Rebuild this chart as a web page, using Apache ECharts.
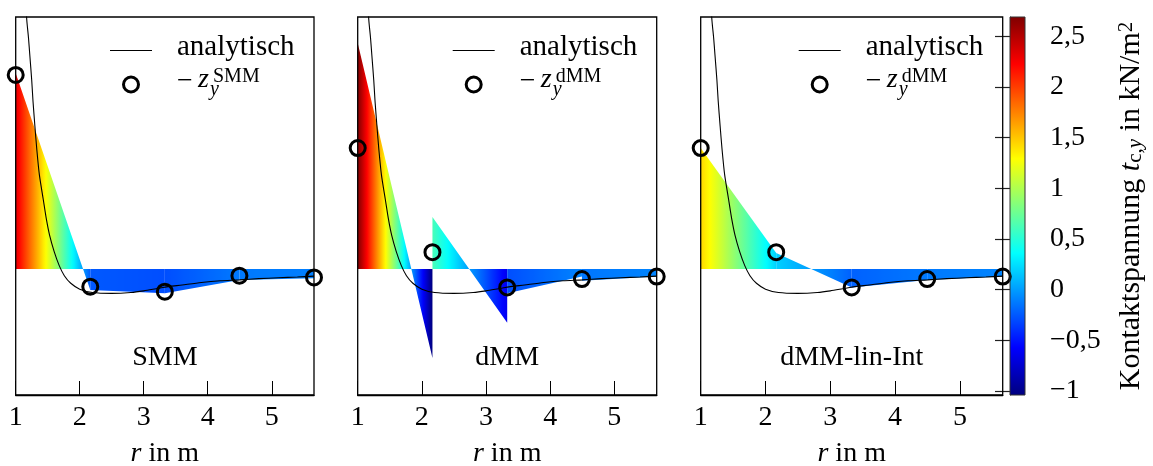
<!DOCTYPE html>
<html><head><meta charset="utf-8">
<script src="https://cdn.jsdelivr.net/npm/echarts@6/dist/echarts.min.js"></script>
<style>html,body{margin:0;padding:0;background:#fff}#c{width:1153px;height:466px}</style>
</head><body><div id="c"></div>
<script>
// ---------- data ----------
const rNodes = [1, 2.165, 3.33, 4.495, 5.66];
const circSMM = [2.31, -0.21, -0.27, -0.08, -0.10];
const circDMM = [1.44, 0.20, -0.22, -0.12, -0.09];
// element-wise fill values (start / end of each element)
const fillSMMStart = [2.33, -0.25, -0.29, -0.13];
const fillSMMEnd   = [-0.25, -0.29, -0.13, -0.11];
const fillDMMStart = [2.69, 0.62, -0.29, -0.14];
const fillDMMEnd   = [-1.06, -0.64, -0.09, -0.09];
const fillLinStart = [1.44, 0.19, -0.22, -0.13];
const fillLinEnd   = [0.19, -0.22, -0.13, -0.09];
// analytic curve
const rAna = [1.12, 1.17, 1.2, 1.22, 1.25, 1.27, 1.3, 1.33, 1.37, 1.43, 1.48, 1.53, 1.6, 1.68, 1.76, 1.86, 2.0, 2.2, 2.5, 2.8, 3.0, 3.3, 3.6, 3.9, 4.2, 4.5, 4.8, 5.1, 5.4, 5.66];
const vAna = [4.2, 3.0, 2.75, 2.55, 2.25, 2.0, 1.7, 1.42, 1.12, 0.83, 0.59, 0.40, 0.21, 0.04, -0.08, -0.17, -0.24, -0.28, -0.29, -0.28, -0.26, -0.22, -0.19, -0.16, -0.14, -0.13, -0.115, -0.105, -0.095, -0.085];
const xTicks = [1, 2, 3, 4, 5];
const cbTicks = [-1, -0.5, 0, 0.5, 1, 1.5, 2, 2.5];
const cbRange = [-1.04, 2.69];
const panelNames = ['SMM', 'dMM', 'dMM-lin-Int'];
const supLabels = ['SMM', 'dMM', 'dMM'];

// ---------- layout ----------
const FONT = '"Liberation Serif", "Times New Roman", serif';
const gridLeft = [15.7, 357.7, 700.7];
const gridWidth = [298.3, 299, 302];
const gridTop = 17, gridHeight = 378;

const fills = [[fillSMMStart, fillSMMEnd], [fillDMMStart, fillDMMEnd], [fillLinStart, fillLinEnd]];
const circs = [circSMM, circDMM, circDMM];

const jetStops = [[0,[0,0,128]],[0.125,[0,0,255]],[0.375,[0,255,255]],[0.625,[255,255,0]],[0.875,[255,0,0]],[1,[128,0,0]]];
function jet(v){
  let t = (v - cbRange[0]) / (cbRange[1] - cbRange[0]);
  t = Math.max(0, Math.min(1, t));
  for (let i = 1; i < jetStops.length; i++) {
    if (t <= jetStops[i][0]) {
      const a = jetStops[i-1], b = jetStops[i];
      const f = (t - a[0]) / (b[0] - a[0]);
      const c = a[1].map((x, k) => Math.round(x + (b[1][k] - x) * f));
      return 'rgb(' + c.join(',') + ')';
    }
  }
  return 'rgb(128,0,0)';
}

function renderFill(params, api){
  const r0 = api.value(0), r1 = api.value(1), v0 = api.value(2), v1 = api.value(3);
  const a = api.coord([r0, 0]), b = api.coord([r0, v0]), c = api.coord([r1, v1]), d = api.coord([r1, 0]);
  const N = 32, stops = [];
  for (let i = 0; i <= N; i++) stops.push({offset: i / N, color: jet(v0 + (v1 - v0) * i / N)});
  return {type: 'polygon', shape: {points: [a, b, c, d]},
    style: {fill: new echarts.graphic.LinearGradient(a[0], 0, d[0], 0, stops, true), stroke: null}};
}
function renderBar(params, api){
  const p0 = api.coord([api.value(0), api.value(1)]), p1 = api.coord([api.value(2), api.value(3)]);
  const N = 40, stops = [];
  for (let i = 0; i <= N; i++) stops.push({offset: i / N, color: jet(cbRange[0] + (cbRange[1] - cbRange[0]) * i / N)});
  return {type: 'rect', shape: {x: p0[0], y: p1[1], width: p1[0] - p0[0], height: p0[1] - p1[1]},
    style: {fill: new echarts.graphic.LinearGradient(0, 1, 0, 0, stops)}};
}

const grid = [], xAxis = [], yAxis = [], series = [], graphic = [];
for (let p = 0; p < 3; p++) {
  grid.push({left: gridLeft[p], top: gridTop, width: gridWidth[p], height: gridHeight, show: true,
    outerBoundsMode: 'none', containLabel: false,
    borderColor: '#000', borderWidth: 1.3, backgroundColor: 'transparent', z: 10});
  xAxis.push({gridIndex: p, type: 'value', min: 1, max: 5.66, interval: 1,
    axisLine: {show: true, onZero: false, lineStyle: {color: '#000', width: 1.3}},
    axisTick: {show: true, inside: true, length: 14, lineStyle: {color: '#000', width: 1}},
    axisLabel: {show: true, margin: 9, showMaxLabel: false, fontFamily: FONT, fontSize: 28, color: '#000',
      formatter: v => (xTicks.indexOf(v) >= 0 ? String(v) : '')},
    splitLine: {show: false},
    name: '{i|r} in m', nameLocation: 'middle', nameGap: 45,
    nameTextStyle: {fontFamily: FONT, fontSize: 28, color: '#000',
      rich: {i: {fontFamily: FONT, fontSize: 28, fontStyle: 'italic', color: '#000'}}}});
  yAxis.push({gridIndex: p, type: 'value', min: -1.5, max: 3, show: false});
  const fd = fills[p][0].map((s, i) => [rNodes[i], rNodes[i+1], s, fills[p][1][i]]);
  series.push({type: 'custom', name: 'Kontaktspannung ' + panelNames[p], xAxisIndex: p, yAxisIndex: p,
    renderItem: renderFill, data: fd, z: 1, silent: true, encode: {x: [0, 1], y: [2, 3]}});
  series.push({type: 'line', name: 'analytisch', xAxisIndex: p, yAxisIndex: p,
    data: rAna.map((r, i) => [r, vAna[i]]), showSymbol: false, symbol: 'none', smooth: 0.25,
    lineStyle: {color: '#000', width: 1.1}, clip: true, z: 3, silent: true});
  series.push({type: 'scatter', name: '−z_y^' + supLabels[p], xAxisIndex: p, yAxisIndex: p,
    data: rNodes.map((r, i) => [r, circs[p][i]]), symbol: 'circle', symbolSize: 15,
    itemStyle: {color: 'rgba(0,0,0,0)', borderColor: '#000', borderWidth: 3, opacity: 1}, z: 5, silent: true});
  // legend + panel label
  const R = gridLeft[p] + gridWidth[p];
  const cx = gridLeft[p] + gridWidth[p] / 2;
  graphic.push({type: 'group', x: R, y: 0, z: 100, children: [
    {type: 'line', shape: {x1: -204, y1: 50.5, x2: -162, y2: 50.5}, style: {stroke: '#000', lineWidth: 1.1}},
    {type: 'circle', shape: {cx: -183, cy: 84.5, r: 7.5}, style: {stroke: '#000', fill: null, lineWidth: 3}},
    {type: 'text', x: -137, y: 47.5, style: {text: 'analytisch', fontFamily: FONT, fontSize: 29, fill: '#000', align: 'left', verticalAlign: 'middle'}},
    {type: 'text', x: -137, y: 82, style: {text: '−', fontFamily: FONT, fontSize: 28, fill: '#000', align: 'left', verticalAlign: 'middle'}},
    {type: 'text', x: -116, y: 79.5, style: {text: 'z', fontFamily: FONT, fontSize: 28, fontStyle: 'italic', fill: '#000', align: 'left', verticalAlign: 'middle'}},
    {type: 'text', x: -101, y: 76.5, style: {text: supLabels[p], fontFamily: FONT, fontSize: 20, fill: '#000', align: 'left', verticalAlign: 'middle'}},
    {type: 'text', x: -104, y: 90, style: {text: 'y', fontFamily: FONT, fontSize: 20, fontStyle: 'italic', fill: '#000', align: 'left', verticalAlign: 'middle'}}
  ]});
  graphic.push({type: 'text', x: cx, y: 357.3, z: 100, style: {text: panelNames[p], fontFamily: FONT, fontSize: 28, fill: '#000', align: 'center', verticalAlign: 'middle'}});
}
// colorbar
grid.push({left: 1010, top: gridTop, width: 15, height: gridHeight, show: true, outerBoundsMode: 'none', containLabel: false,
  borderColor: '#333', borderWidth: 1, backgroundColor: 'transparent', z: 10});
xAxis.push({gridIndex: 3, type: 'value', min: 0, max: 1, show: false});
const fmt = v => String(v).replace('.', ',').replace('-', '−');
yAxis.push({gridIndex: 3, type: 'value', min: cbRange[0], max: cbRange[1], position: 'right',
  axisLine: {show: true, lineStyle: {color: '#333', width: 1}},
  axisTick: {show: true, inside: true, length: 15, customValues: cbTicks, lineStyle: {color: '#222', width: 1.2}},
  axisLabel: {show: true, margin: 25, customValues: cbTicks, formatter: fmt, fontFamily: FONT, fontSize: 28, color: '#000'},
  splitLine: {show: false},
  name: '{n|Kontaktspannung }{i|t}{s|c,}{si|y}{n| in kN/m}{p|2}',
  nameLocation: 'middle', nameRotate: 90, nameGap: 91,
  nameTextStyle: {fontFamily: FONT, fontSize: 30, color: '#000', rich: {
    n: {fontFamily: FONT, fontSize: 30, lineHeight: 30, color: '#000', verticalAlign: 'middle'},
    i: {fontFamily: FONT, fontSize: 30, lineHeight: 30, fontStyle: 'italic', color: '#000', verticalAlign: 'middle'},
    s: {fontFamily: FONT, fontSize: 21, lineHeight: 21, color: '#000', padding: [16, 0, 0, 0], verticalAlign: 'bottom'},
    si: {fontFamily: FONT, fontSize: 21, lineHeight: 21, fontStyle: 'italic', color: '#000', padding: [16, 0, 0, 0], verticalAlign: 'bottom'},
    p: {fontFamily: FONT, fontSize: 21, lineHeight: 21, color: '#000', padding: [0, 0, 16, 0], verticalAlign: 'top'}
  }}});
series.push({type: 'custom', name: 'Farbskala', xAxisIndex: 3, yAxisIndex: 3, renderItem: renderBar,
  data: [[0, cbRange[0], 1, cbRange[1]]], z: 1, silent: true});

const chart = echarts.init(document.getElementById('c'), null, {renderer: 'canvas'});
chart.setOption({animation: false, backgroundColor: '#fff', grid, xAxis, yAxis, series, graphic});
</script></body></html>
